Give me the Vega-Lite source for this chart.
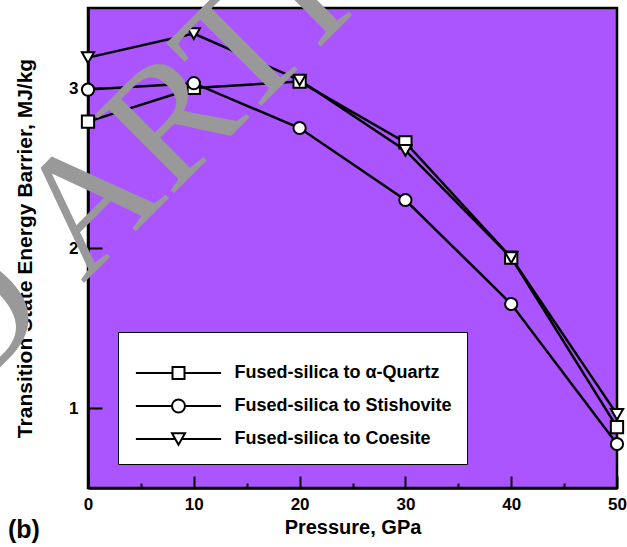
{
  "$schema": "https://vega.github.io/schema/vega-lite/v6.json",
  "width": 529,
  "height": 480,
  "autosize": {"type": "none"},
  "padding": {"left": 88, "top": 8, "right": 10, "bottom": 59},
  "background": "white",
  "config": {
    "view": {"fill": "#AA55FF", "stroke": "black", "strokeWidth": 2.5},
    "font": "Liberation Sans"
  },
  "datasets": {
    "barriers": [
      {"series": "Fused-silica to α-Quartz", "pressure": 0, "barrier": 2.79},
      {"series": "Fused-silica to α-Quartz", "pressure": 10, "barrier": 3.0},
      {"series": "Fused-silica to α-Quartz", "pressure": 20, "barrier": 3.04},
      {"series": "Fused-silica to α-Quartz", "pressure": 30, "barrier": 2.66},
      {"series": "Fused-silica to α-Quartz", "pressure": 40, "barrier": 1.94},
      {"series": "Fused-silica to α-Quartz", "pressure": 50, "barrier": 0.88},
      {"series": "Fused-silica to Stishovite", "pressure": 0, "barrier": 2.99},
      {"series": "Fused-silica to Stishovite", "pressure": 10, "barrier": 3.03},
      {"series": "Fused-silica to Stishovite", "pressure": 20, "barrier": 2.75},
      {"series": "Fused-silica to Stishovite", "pressure": 30, "barrier": 2.3},
      {"series": "Fused-silica to Stishovite", "pressure": 40, "barrier": 1.65},
      {"series": "Fused-silica to Stishovite", "pressure": 50, "barrier": 0.775},
      {"series": "Fused-silica to Coesite", "pressure": 0, "barrier": 3.19},
      {"series": "Fused-silica to Coesite", "pressure": 10, "barrier": 3.34},
      {"series": "Fused-silica to Coesite", "pressure": 20, "barrier": 3.05},
      {"series": "Fused-silica to Coesite", "pressure": 30, "barrier": 2.61},
      {"series": "Fused-silica to Coesite", "pressure": 40, "barrier": 1.94},
      {"series": "Fused-silica to Coesite", "pressure": 50, "barrier": 0.96}
    ]
  },
  "data": {"name": "barriers"},
  "encoding": {
    "x": {
      "field": "pressure",
      "type": "quantitative",
      "scale": {"domain": [0, 50], "nice": false, "zero": false},
      "axis": {
        "title": "Pressure, GPa",
        "values": [0, 5, 10, 15, 20, 25, 30, 35, 40, 45, 50],
        "format": "d",
        "labelExpr": "datum.value % 10 === 0 ? datum.label : ''",
        "tickSize": {"condition": {"test": "datum.value % 10 === 0", "value": -12}, "value": -5},
        "grid": false,
        "domainColor": "black",
        "domainWidth": 2.5,
        "tickColor": "black",
        "tickWidth": 2,
        "labelFont": "Liberation Sans",
        "labelFontWeight": "bold",
        "labelFontSize": 17,
        "labelColor": "black",
        "labelPadding": 20,
        "labelFlush": false,
        "labelOverlap": false,
        "titleFont": "Liberation Sans",
        "titleFontWeight": "bold",
        "titleFontSize": 20,
        "titleColor": "black",
        "titlePadding": -2
      }
    },
    "y": {
      "field": "barrier",
      "type": "quantitative",
      "scale": {"domain": [0.5, 3.5], "nice": false, "zero": false},
      "axis": {
        "title": "Transition State Energy Barrier, MJ/kg",
        "values": [1, 1.5, 2, 2.5, 3],
        "format": "d",
        "labelExpr": "datum.value % 1 === 0 ? datum.label : ''",
        "tickSize": {"condition": {"test": "datum.value % 1 === 0", "value": -14}, "value": -9},
        "grid": false,
        "domainColor": "black",
        "domainWidth": 2.5,
        "tickColor": "black",
        "tickWidth": 2,
        "labelFont": "Liberation Sans",
        "labelFontWeight": "bold",
        "labelFontSize": 17,
        "labelColor": "black",
        "labelPadding": 24,
        "labelFlush": false,
        "labelOverlap": false,
        "titleFont": "Liberation Sans",
        "titleFontWeight": "bold",
        "titleFontSize": 21,
        "titleColor": "black",
        "titlePadding": 33
      }
    }
  },
  "layer": [
    {
      "mark": {"type": "line", "color": "black", "strokeWidth": 2.5},
      "encoding": {"detail": {"field": "series", "type": "nominal"}}
    },
    {
      "mark": {"type": "point", "filled": true, "fill": "white", "stroke": "black", "strokeWidth": 2, "opacity": 1, "size": 150},
      "encoding": {
        "shape": {
          "field": "series",
          "type": "nominal",
          "scale": {
            "domain": ["Fused-silica to α-Quartz", "Fused-silica to Stishovite", "Fused-silica to Coesite"],
            "range": ["square", "circle", "triangle-down"]
          },
          "legend": null
        }
      }
    },
    {
      "transform": [{"filter": "false"}],
      "mark": {"type": "point", "filled": false, "color": "black", "strokeWidth": 2, "opacity": 1},
      "encoding": {
        "shape": {
          "field": "series",
          "type": "nominal",
          "scale": {
            "domain": ["Fused-silica to α-Quartz", "Fused-silica to Stishovite", "Fused-silica to Coesite"],
            "range": [
              "M-7.1,0H-1M1,0H7.1M-1,-1H1V1H-1Z",
              "M-7.1,0H-1.08M1.08,0H7.1M1.08,0A1.08,1.08,0,1,1,-1.08,0A1.08,1.08,0,1,1,1.08,0Z",
              "M-7.1,0H-0.54M0.54,0H7.1M-1.08,-0.94H1.08L0,0.94Z"
            ]
          },
          "legend": {
            "orient": "none",
            "legendX": 30,
            "legendY": 324,
            "title": " ",
            "titleFontSize": 13,
            "titlePadding": 4,
            "padding": 15,
            "fillColor": "white",
            "strokeColor": "black",
            "symbolSize": 144,
            "symbolStrokeWidth": 2,
            "symbolStrokeColor": "black",
            "symbolOpacity": 1,
            "symbolOffset": 36.5,
            "labelOffset": 47,
            "labelFont": "Liberation Sans",
            "labelFontSize": 18,
            "labelFontWeight": "bold",
            "labelColor": "black",
            "labelLimit": 400,
            "rowPadding": 12
          }
        }
      }
    },
    {
      "data": {"values": [{"label": "(b)", "px": -7.56, "py": 0.19}]},
      "mark": {"type": "text", "align": "left", "baseline": "alphabetic", "font": "Liberation Sans", "fontWeight": "bold", "fontSize": 25, "color": "black"},
      "encoding": {
        "x": {"field": "px", "type": "quantitative"},
        "y": {"field": "py", "type": "quantitative"},
        "text": {"field": "label"}
      }
    },
    {
      "data": {"values": [{"word": "ARTICLE", "px": -0.47, "py": 1.775}]},
      "mark": {"type": "text", "align": "left", "baseline": "alphabetic", "font": "Liberation Serif", "fontSize": 170, "color": "#999999", "angle": 315},
      "encoding": {
        "x": {"field": "px", "type": "quantitative"},
        "y": {"field": "py", "type": "quantitative"},
        "text": {"field": "word"}
      }
    },
    {
      "data": {"values": [{"word": "RETRACTED", "px": -0.47, "py": 1.775}]},
      "mark": {"type": "text", "align": "right", "baseline": "alphabetic", "font": "Liberation Serif", "fontSize": 170, "color": "#999999", "angle": 315, "dx": -42},
      "encoding": {
        "x": {"field": "px", "type": "quantitative"},
        "y": {"field": "py", "type": "quantitative"},
        "text": {"field": "word"}
      }
    }
  ],
  "resolve": {"scale": {"shape": "independent"}}
}
